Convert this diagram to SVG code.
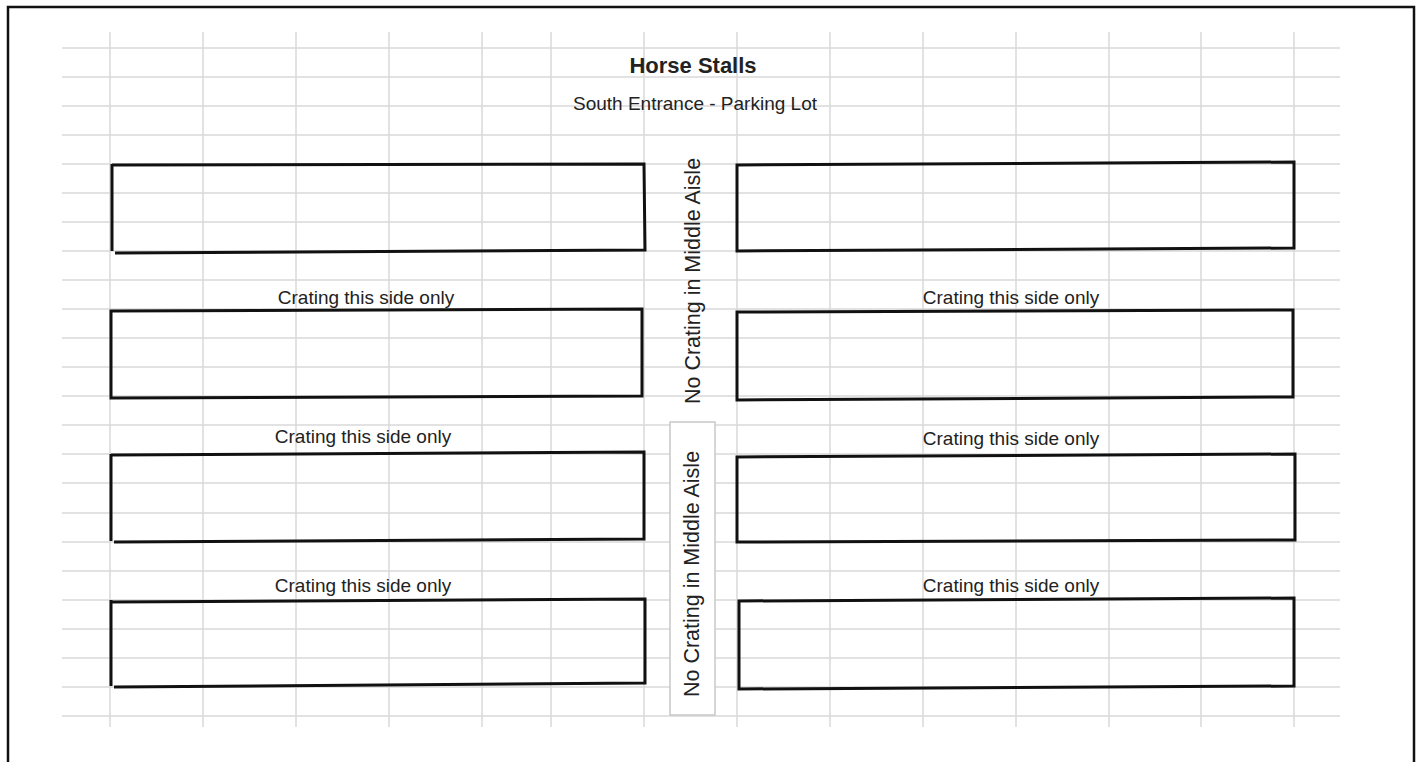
<svg xmlns="http://www.w3.org/2000/svg" width="1421" height="762" viewBox="0 0 1421 762">
<style>
.grid line{stroke:#d9d9d9;stroke-width:1.5}
.stall{fill:none;stroke:#111;stroke-width:3;stroke-linejoin:miter}
.t{font-family:"Liberation Sans",Arial,sans-serif;fill:#222}
.lbl{font-size:19px;text-anchor:middle}
.aisle{font-size:21.5px;text-anchor:middle}
</style>
<rect x="0" y="0" width="1421" height="762" fill="#fff"/>
<path d="M8,775 L8,7 L1414,7 L1414,775" fill="none" stroke="#111" stroke-width="2.5"/>
<g class="grid" id="grid">
<line x1="62" y1="48" x2="1340" y2="48"/>
<line x1="62" y1="77" x2="1340" y2="77"/>
<line x1="62" y1="106" x2="1340" y2="106"/>
<line x1="62" y1="135" x2="1340" y2="135"/>
<line x1="62" y1="164" x2="1340" y2="164"/>
<line x1="62" y1="193" x2="1340" y2="193"/>
<line x1="62" y1="222" x2="1340" y2="222"/>
<line x1="62" y1="251" x2="1340" y2="251"/>
<line x1="62" y1="280" x2="1340" y2="280"/>
<line x1="62" y1="309" x2="1340" y2="309"/>
<line x1="62" y1="338" x2="1340" y2="338"/>
<line x1="62" y1="367" x2="1340" y2="367"/>
<line x1="62" y1="396" x2="1340" y2="396"/>
<line x1="62" y1="425" x2="1340" y2="425"/>
<line x1="62" y1="454" x2="1340" y2="454"/>
<line x1="62" y1="483" x2="1340" y2="483"/>
<line x1="62" y1="513" x2="1340" y2="513"/>
<line x1="62" y1="542" x2="1340" y2="542"/>
<line x1="62" y1="571" x2="1340" y2="571"/>
<line x1="62" y1="600" x2="1340" y2="600"/>
<line x1="62" y1="629" x2="1340" y2="629"/>
<line x1="62" y1="658" x2="1340" y2="658"/>
<line x1="62" y1="687" x2="1340" y2="687"/>
<line x1="62" y1="716" x2="1340" y2="716"/>
<line x1="110" y1="32" x2="110" y2="727"/>
<line x1="203" y1="32" x2="203" y2="727"/>
<line x1="296" y1="32" x2="296" y2="727"/>
<line x1="389" y1="32" x2="389" y2="727"/>
<line x1="482" y1="32" x2="482" y2="727"/>
<line x1="551" y1="32" x2="551" y2="727"/>
<line x1="644" y1="32" x2="644" y2="727"/>
<line x1="737" y1="32" x2="737" y2="727"/>
<line x1="830" y1="32" x2="830" y2="727"/>
<line x1="923" y1="32" x2="923" y2="727"/>
<line x1="1016" y1="32" x2="1016" y2="727"/>
<line x1="1109" y1="32" x2="1109" y2="727"/>
<line x1="1201" y1="32" x2="1201" y2="727"/>
<line x1="1294" y1="32" x2="1294" y2="727"/>
</g>
<g id="title">
<text class="t" x="693" y="73" font-size="22" font-weight="bold" text-anchor="middle">Horse Stalls</text>
<text class="t" x="695" y="110" font-size="19" text-anchor="middle">South Entrance - Parking Lot</text>
</g>
<g id="stall-l1"><path class="stall" d="M112,164 L112,251 M115,253 L645,250 L644,164 L112,165"/></g>
<g id="stall-l2"><path class="stall" d="M111,311 L642,309 L642,396 L111,398 Z"/><text class="t lbl" x="366" y="304">Crating this side only</text></g>
<g id="stall-l3"><path class="stall" d="M111,454 L111,541 M114,542 L644,539 L644,452 L111,455"/><text class="t lbl" x="363" y="443">Crating this side only</text></g>
<g id="stall-l4"><path class="stall" d="M111,600 L111,686 M114,687 L645,683 L645,599 L111,602"/><text class="t lbl" x="363" y="592">Crating this side only</text></g>
<g id="stall-r1"><path class="stall" d="M737,165 L1294,162 L1294,248 L737,251 Z"/></g>
<g id="stall-r2"><path class="stall" d="M737,312 L1293,310 L1293,397 L737,400 Z"/><text class="t lbl" x="1011" y="304">Crating this side only</text></g>
<g id="stall-r3"><path class="stall" d="M737,457 L1295,454 L1295,540 L737,542 Z"/><text class="t lbl" x="1011" y="445">Crating this side only</text></g>
<g id="stall-r4"><path class="stall" d="M739,601 L1294,598 L1294,686 L739,689 Z"/><text class="t lbl" x="1011" y="592">Crating this side only</text></g>
<g id="aisle-top">
<text class="t aisle" transform="translate(700,281) rotate(-90)" x="0" y="0">No Crating in Middle Aisle</text>
</g>
<g id="aisle-bottom">
<rect x="670" y="422" width="45" height="293" fill="#fff" stroke="#c8c8c8" stroke-width="1.5"/>
<text class="t aisle" transform="translate(699,574) rotate(-90)" x="0" y="0">No Crating in Middle Aisle</text>
</g>
<g id="connectors"></g>
</svg>
